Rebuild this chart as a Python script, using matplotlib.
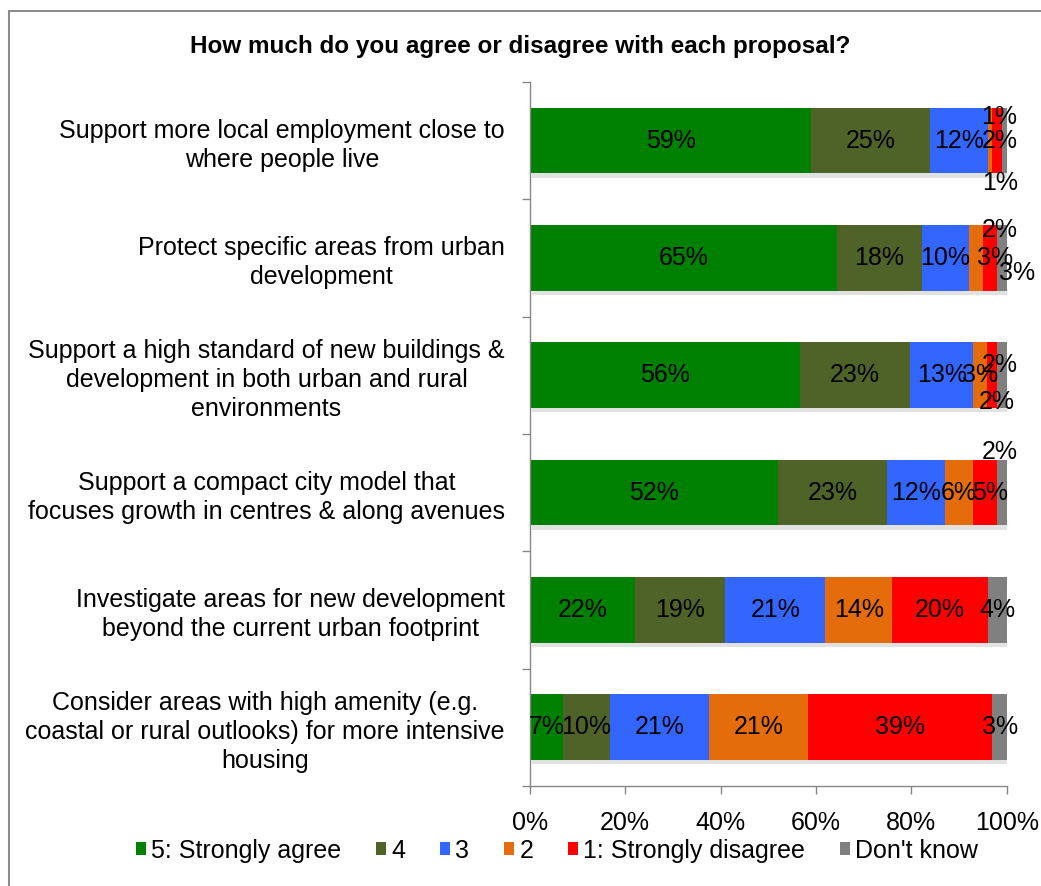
import numpy as np
import matplotlib.pyplot as plt
from matplotlib import patheffects
from matplotlib.patches import Rectangle, Patch

plt.rcParams['font.family'] = ['Liberation Sans', 'DejaVu Sans']

proposals = [
    "Support more local employment close to\nwhere people live",
    "Protect specific areas from urban\ndevelopment",
    "Support a high standard of new buildings &\ndevelopment in both urban and rural\nenvironments",
    "Support a compact city model that\nfocuses growth in centres & along avenues",
    "Investigate areas for new development\nbeyond the current urban footprint",
    "Consider areas with high amenity (e.g.\ncoastal or rural outlooks) for more intensive\nhousing",
]
series_names = ["5: Strongly agree", "4", "3", "2", "1: Strongly disagree", "Don't know"]
colours = ["#008000", "#4F6228", "#3366FF", "#E46C0A", "#FF0000", "#808080"]

# percentages per proposal
strongly_agree = [59, 65, 56, 52, 22, 7]
agree = [25, 18, 23, 23, 19, 10]
neutral = [12, 10, 13, 12, 21, 21]
disagree = [1, 3, 3, 6, 14, 21]
strongly_disagree = [2, 3, 2, 5, 20, 39]
dont_know = [1, 2, 2, 2, 4, 3]

xticks = [0, 20, 40, 60, 80, 100]
xtick_labels = ["0%", "20%", "40%", "60%", "80%", "100%"]

values = np.array([strongly_agree, agree, neutral, disagree,
                   strongly_disagree, dont_know], dtype=float)
# 100% stacked: scale each proposal to its own total
shares = values / values.sum(axis=0) * 100

# small segments get their labels nudged off the bar (dx in %, dy in rows)
nudges = {
    (0, 3): (2.0, -0.2), (0, 4): (0.5, 0.0), (0, 5): (-0.8, 0.36),
    (1, 3): (8.7, 0.13), (1, 4): (1.0, 0.0), (1, 5): (-0.5, -0.24),
    (2, 4): (1.5, -0.085), (2, 5): (-1.0, 0.23),
    (3, 4): (1.0, 0.0), (3, 5): (-0.5, -0.35),
}

fig = plt.figure(figsize=(10.41, 8.86), dpi=100)
ax = fig.add_axes([0.509, 0.1129, 0.458, 0.7946])

y = np.arange(len(proposals))
shadow = [patheffects.SimplePatchShadow(offset=(1.5, -3), shadow_rgbFace="#888888", alpha=0.25),
          patheffects.Normal()]
left = np.zeros(len(proposals))
for s, (name, col) in enumerate(zip(series_names, colours)):
    bars = ax.barh(y, shares[s], left=left, height=0.56, color=col, zorder=2)
    for b in bars:
        b.set_path_effects(shadow)
    for r in range(len(proposals)):
        dx, dy = nudges.get((r, s), (0.0, 0.0))
        ax.text(left[r] + shares[s][r] / 2 + dx, y[r] + dy,
                "%d%%" % values[s][r], ha="center", va="center",
                fontsize=18, color="black", zorder=3)
    left += shares[s]

ax.set_xlim(0, 100)
ax.set_ylim(len(proposals) - 0.5, -0.5)
ax.set_xticks(xticks)
ax.set_xticklabels(xtick_labels, fontsize=18)
ax.set_yticks(y)
ax.set_yticklabels(proposals, fontsize=18, multialignment="center", linespacing=1.25)
ax.set_yticks(np.arange(-0.5, len(proposals)), minor=True)
ax.tick_params(axis="y", which="major", length=0, pad=18)
ax.tick_params(axis="y", which="minor", length=6, color="#868686", width=1)
ax.tick_params(axis="x", length=6, color="#868686", width=1, pad=12)

for side in ["top", "right"]:
    ax.spines[side].set_visible(False)
for side in ["left", "bottom"]:
    ax.spines[side].set_color("#868686")
    ax.spines[side].set_linewidth(1)

fig.text(0.5, 0.947, "How much do you agree or disagree with each proposal?",
         ha="center", va="center", fontsize=17.5, fontweight="bold")

handles = [Patch(facecolor=c, label=n) for n, c in zip(series_names, colours)]
fig.legend(handles=handles, loc="center", bbox_to_anchor=(0.535, 0.04), ncol=6,
           frameon=False, fontsize=18, handlelength=0.42, handleheight=0.42,
           handletextpad=0.2, columnspacing=1.38, borderpad=0)

fig.patches.append(Rectangle((0.0082, -0.05), 1.05, 0.988 + 0.05,
                             transform=fig.transFigure, fill=False,
                             edgecolor="#8c8c8c", linewidth=1.5))

fig.savefig("out.png", dpi=100)
